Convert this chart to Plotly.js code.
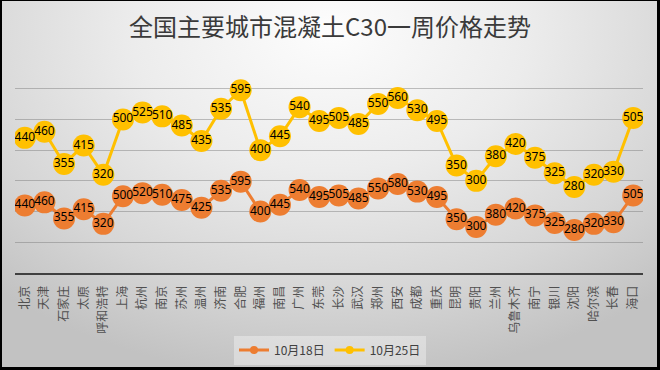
<!DOCTYPE html>
<html>
<head>
<meta charset="utf-8">
<script src="https://cdn.plot.ly/plotly-3.0.1.min.js"></script>
<style>
  html, body { margin: 0; padding: 0; }
  #wrap { position: relative; width: 660px; height: 370px;
    background: radial-gradient(ellipse 75% 95% at 50% 8%, #fdfdfd 0%, #ececec 40%, #d6d6d6 75%, #c2c2c2 100%); }
  #chart { width: 660px; height: 370px; }
  #frame { position: absolute; left: 0; top: 0; width: 660px; height: 370px; box-sizing: border-box;
    border-left: 2px solid #000; border-top: 1px solid #000; border-right: 3px solid #000; border-bottom: 3px solid #000;
    pointer-events: none; }
</style>
</head>
<body>
<div id="wrap"><div id="chart"></div><div id="frame"></div></div>
<script>
const cities = ['北京','天津','石家庄','太原','呼和浩特','上海','杭州','南京','苏州','温州','济南','合肥','福州','南昌','广州','东莞','长沙','武汉','郑州','西安','成都','重庆','昆明','贵阳','兰州','乌鲁木齐','南宁','银川','沈阳','哈尔滨','长春','海口'];
const oct18 = [440,460,355,415,320,500,520,510,475,425,535,595,400,445,540,495,505,485,550,580,530,495,350,300,380,420,375,325,280,320,330,505];
const oct25 = [440,460,355,415,320,500,525,510,485,435,535,595,400,445,540,495,505,485,550,560,530,495,350,300,380,420,375,325,280,320,330,505];
const seriesNames = ['10月18日','10月25日'];

const orange = '#ED7D31', gold = '#FFC000';
const labelFont = {family: 'Noto Sans, Liberation Sans, sans-serif', size: 12, color: '#000'};

const traces = [
  {x: cities, y: oct18, name: seriesNames[0], type: 'scatter', mode: 'lines+markers', stackgroup: 'a', fill: 'none',
   line: {color: orange, width: 3}, marker: {color: orange, size: 22}, hoverinfo: 'skip', showlegend: false},
  {x: cities, y: oct25, name: seriesNames[1], type: 'scatter', mode: 'lines+markers', stackgroup: 'a', fill: 'none',
   line: {color: gold, width: 3}, marker: {color: gold, size: 22}, hoverinfo: 'skip', showlegend: false},
  {x: cities, y: oct18, text: oct18.map(String), type: 'scatter', mode: 'text', stackgroup: 'b', fill: 'none',
   textposition: 'middle center', textfont: labelFont, showlegend: false, hoverinfo: 'skip'},
  {x: cities, y: oct25, text: oct25.map(String), type: 'scatter', mode: 'text', stackgroup: 'b', fill: 'none',
   textposition: 'middle center', textfont: labelFont, showlegend: false, hoverinfo: 'skip'},
  // legend entries (small markers, like the reference legend)
  {x: [cities[0]], y: [null], name: seriesNames[0], type: 'scatter', mode: 'lines+markers',
   line: {color: orange, width: 3}, marker: {color: orange, size: 8}, hoverinfo: 'skip'},
  {x: [cities[0]], y: [null], name: seriesNames[1], type: 'scatter', mode: 'lines+markers',
   line: {color: gold, width: 3}, marker: {color: gold, size: 8}, hoverinfo: 'skip'}
];

const layout = {
  width: 660, height: 370,
  paper_bgcolor: 'rgba(0,0,0,0)', plot_bgcolor: 'rgba(0,0,0,0)',
  margin: {l: 15, r: 17, t: 58, b: 97},
  title: {text: '全国主要城市混凝土C30一周价格走势', x: 0.5, xanchor: 'center', yref: 'container', y: 1 - 28/370, yanchor: 'middle',
          font: {family: 'Noto Sans CJK SC, sans-serif', size: 24, color: '#3a3a3a'}},
  xaxis: {type: 'category', range: [-0.5, 31.5], showgrid: false, showline: true, linecolor: '#404040', linewidth: 2,
          tickangle: -90, ticks: 'outside', ticklen: 6, tickcolor: 'rgba(0,0,0,0)',
          tickfont: {family: 'Noto Sans CJK SC, sans-serif', size: 12, color: '#505050'}, fixedrange: true},
  yaxis: {range: [0, 1400], dtick: 200, showticklabels: false, showgrid: true, gridcolor: 'rgba(120,120,120,0.45)', gridwidth: 1,
          zeroline: false, showline: false, ticks: '', fixedrange: true},
  showlegend: true,
  legend: {orientation: 'h', x: 0.5, xanchor: 'center', xref: 'container', yref: 'container', y: 1 - 350/370, yanchor: 'middle',
           bgcolor: 'rgba(255,255,255,0.35)', font: {family: 'Noto Sans CJK SC, sans-serif', size: 12, color: '#404040'},
           itemwidth: 30, traceorder: 'normal'}
};

Plotly.newPlot('chart', traces, layout, {displayModeBar: false, staticPlot: true});
</script>
</body>
</html>
